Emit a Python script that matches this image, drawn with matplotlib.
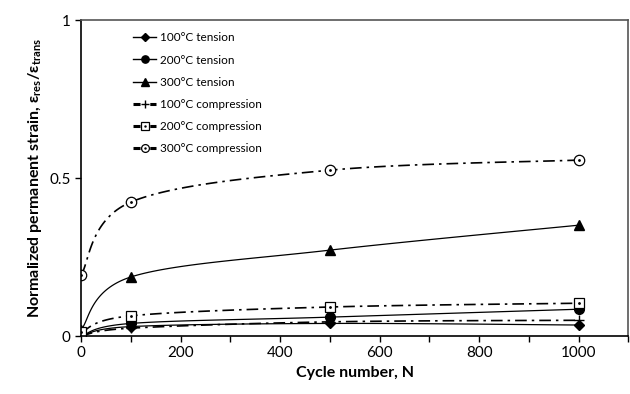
import numpy as np
import matplotlib
matplotlib.use("Agg")
import matplotlib.pyplot as plt
from matplotlib.legend_handler import HandlerLine2D

plt.rcParams['font.family'] = ['Lato', 'DejaVu Sans']
plt.rcParams['mathtext.fontset'] = 'custom'
plt.rcParams['mathtext.bf'] = 'Lato:bold'
plt.rcParams['mathtext.rm'] = 'Lato'

cycles = [0, 100, 500, 1000]
t100 = [0.0, 0.030, 0.040, 0.035]
t200 = [0.0, 0.040, 0.060, 0.085]
t300 = [0.02, 0.187, 0.272, 0.351]
c100 = [0.0, 0.025, 0.045, 0.050]
c200 = [0.012, 0.064, 0.092, 0.104]
c300 = [0.193, 0.424, 0.525, 0.557]
labels = ['100°C tension', '200°C tension', '300°C tension',
          '100°C compression', '200°C compression', '300°C compression']


def smooth(x, y, n=40):
    # Excel-style smoothed line: cubic Bezier with control points at 1/6 of neighbours
    x = np.asarray(x, float)
    y = np.asarray(y, float)
    p = np.column_stack([x, y])
    out = []
    for i in range(len(p) - 1):
        p0 = p[i - 1] if i > 0 else p[i]
        p1, p2 = p[i], p[i + 1]
        p3 = p[i + 2] if i + 2 < len(p) else p[i + 1]
        c1 = p1 + (p2 - p0) / 6
        c2 = p2 - (p3 - p1) / 6
        t = np.linspace(0, 1, n)[:, None]
        seg = ((1 - t) ** 3) * p1 + 3 * ((1 - t) ** 2) * t * c1 + 3 * (1 - t) * t ** 2 * c2 + t ** 3 * p2
        out.append(seg)
    s = np.vstack(out)
    return s[:, 0], s[:, 1]


class DotHandler(HandlerLine2D):
    # legend entry with a small dot in the middle of the open marker
    def create_artists(self, legend, orig_handle, xdescent, ydescent, width, height, fontsize, trans):
        arts = super().create_artists(legend, orig_handle, xdescent, ydescent, width, height, fontsize, trans)
        dot = plt.Line2D([width / 2 - xdescent], [height / 2 - ydescent], ls='none', marker='.',
                         ms=1.5, color='black', transform=trans)
        return list(arts) + [dot]


fig = plt.figure(figsize=(6.3, 3.94), dpi=100)
ax = fig.add_axes([0.1286, 0.147, 0.869, 0.802])

dashdot = (0, (7, 3, 1.5, 3))
series = [
    (t100, '-', 0.9, dict(marker='D', ms=5, mfc='black')),
    (t200, '-', 0.9, dict(marker='o', ms=7, mfc='black')),
    (t300, '-', 0.9, dict(marker='^', ms=7.5, mfc='black')),
    (c100, dashdot, 1.2, dict(marker='+', ms=7, mew=1.0)),
    (c200, dashdot, 1.2, dict(marker='s', ms=7, mfc='white', mew=0.9)),
    (c300, dashdot, 1.2, dict(marker='o', ms=7.5, mfc='white', mew=0.9)),
]

handles = []
hmap = {}
for i, (vals, ls, lw, mk) in enumerate(series):
    sx, sy = smooth(cycles, vals)
    ax.plot(sx, sy, color='black', ls=ls, lw=lw)
    ax.plot(cycles, vals, ls='none', color='black', mec='black', **mk)
    lmk = dict(mk)
    lmk['ms'] = mk['ms'] * 0.75
    if ls == '-':
        h = plt.Line2D([], [], color='black', ls='-', lw=1.0, **lmk)
    else:
        h = plt.Line2D([], [], color='black', ls=(0, (2.3, 3.2)), lw=2.2, **lmk)
    if i >= 4:
        ax.plot(cycles, vals, ls='none', marker='.', ms=2, color='black')
        hmap[h] = DotHandler()
    handles.append(h)

leg = ax.legend(handles, labels, handler_map=hmap,
                loc='upper left', bbox_to_anchor=(0.075, 0.995), frameon=False,
                fontsize=8.5, handlelength=2.0, labelspacing=0.95, handletextpad=0.3,
                numpoints=1)

ax.set_xlim(0, 1100)
ax.set_ylim(0, 1)
ax.set_xticks(np.arange(0, 1101, 100))
ax.set_xticklabels([str(v) if v % 200 == 0 and v <= 1000 else '' for v in range(0, 1101, 100)])
ax.set_yticks([0, 0.5, 1])
ax.set_yticklabels(['0', '0.5', '1'])
ax.tick_params(direction='out', length=4, width=1, labelsize=11)
for s in ax.spines.values():
    s.set_linewidth(1.2)
ax.spines['top'].set_color('#555555')
ax.spines['right'].set_color('#555555')
ax.set_xlabel('Cycle number, N', fontsize=11.5, fontweight='bold')
ax.set_ylabel(r'Normalized permanent strain, ε$_{\mathbf{res}}$/ε$_{\mathbf{trans}}$',
              fontsize=11.5, fontweight='bold')

fig.savefig('out.png', dpi=100)
